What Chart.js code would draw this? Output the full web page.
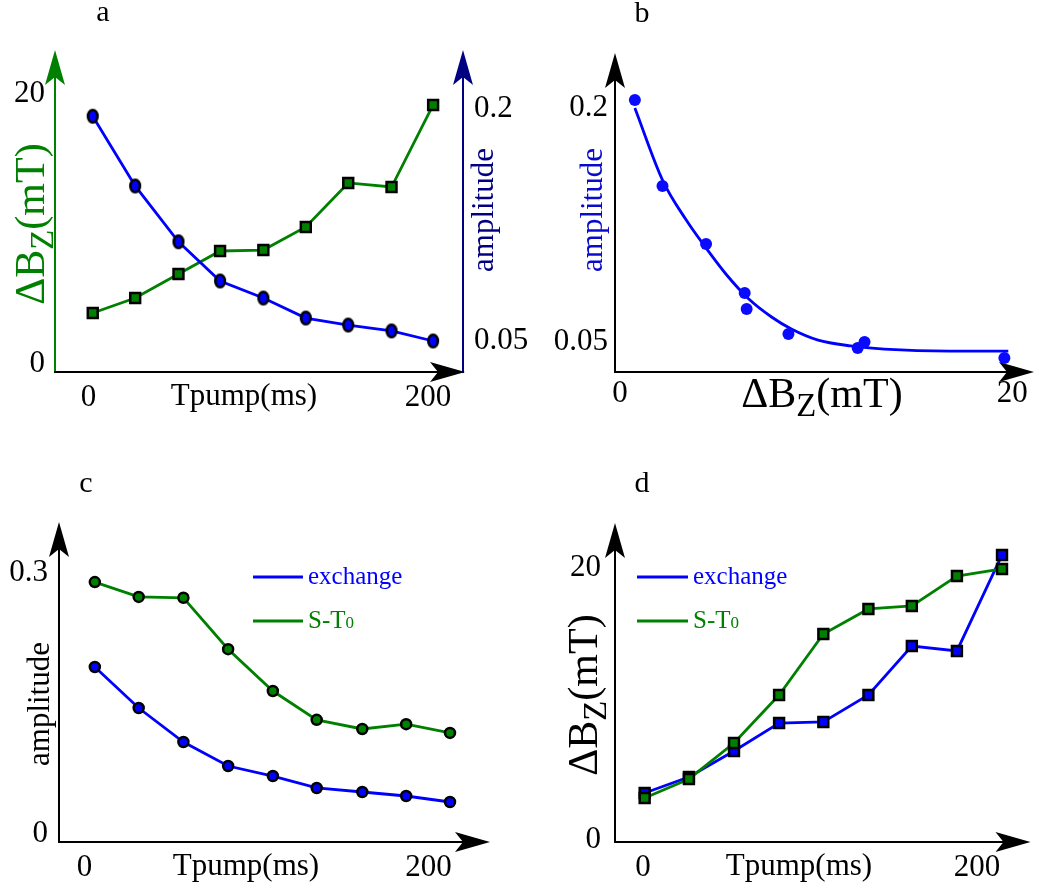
<!DOCTYPE html>
<html>
<head>
<meta charset="utf-8">
<script src="https://cdn.jsdelivr.net/npm/chart.js@4.4.1/dist/chart.umd.min.js"></script>
<style>
  html, body { margin: 0; padding: 0; background: #fff; }
  #wrap { position: relative; width: 1040px; height: 890px; }
  #wrap canvas { position: absolute; left: 0; top: 0; }
</style>
</head>
<body>
<div id="wrap">
  <canvas id="chartA" width="1040" height="890"></canvas>
  <canvas id="chartB" width="1040" height="890"></canvas>
  <canvas id="chartC" width="1040" height="890"></canvas>
  <canvas id="chartD" width="1040" height="890"></canvas>
</div>
<script>
// panel a : dBz and amplitude vs pump time
var aTime = [2.5, 27.5, 53, 77.5, 103, 128, 153, 178.5, 203];
var aDeltaB = [3.78, 4.89, 6.67, 8.37, 8.44, 10.15, 13.41, 13.11, 19.19];
var aAmp = [0.195, 0.150, 0.114, 0.0887, 0.0777, 0.0648, 0.0603, 0.0565, 0.050];
var aTimeTicks = [0, 200];
var aDeltaBTicks = [0, 20];
var aAmpTicks = [0.05, 0.2];

// panel b : amplitude vs dBz, with fit
var bDeltaB = [0.76, 2.17, 4.39, 6.36, 6.46, 8.59, 12.12, 12.47, 19.6];
var bAmp = [0.2048, 0.1498, 0.1127, 0.0814, 0.0711, 0.0551, 0.0461, 0.0500, 0.0397];
var bFitX = [0.76, 2.17, 3.38, 4.39, 5.4, 6.57, 7.73, 8.74, 10.1, 11.77, 13.48, 16.82, 19.8];
var bFitY = [0.1997, 0.1536, 0.128, 0.1101, 0.0935, 0.0775, 0.066, 0.0583, 0.0512, 0.0475, 0.0455, 0.0442, 0.0442];
var bDeltaBTicks = [0, 20];
var bAmpTicks = [0.05, 0.2];

// panel c : amplitude, exchange vs S-T0
var cTime = [6, 31.5, 57.5, 83.5, 109.5, 135, 161.5, 187, 212.5];
var cExchange = [0.1916, 0.1445, 0.1055, 0.078, 0.0665, 0.0528, 0.0482, 0.0436, 0.0367];
var cSTo = [0.289, 0.272, 0.271, 0.212, 0.164, 0.131, 0.1205, 0.126, 0.116];
var cTimeTicks = [0, 200];
var cAmpTicks = [0, 0.3];

// panel d : dBz, exchange vs S-T0
var dTime = [1, 27.5, 54.5, 81.5, 108, 135, 161, 188, 215];
var dExchange = [3.46, 4.63, 6.54, 8.6, 8.68, 10.66, 14.26, 13.9, 20.96];
var dSTo = [3.09, 4.49, 7.13, 10.66, 15.15, 16.99, 17.21, 19.41, 19.93];
var dTimeTicks = [0, 200];
var dDeltaBTicks = [0, 20];

var BLUE = '#0000ff', GREEN = '#008000', NAVY = '#000080';
var SERIF = '"Liberation Serif", "Times New Roman", serif';
Chart.defaults.font.family = SERIF;
Chart.defaults.color = '#000';

function font(size) { return size + 'px ' + SERIF; }
function pts(xs, ys) { return xs.map(function(x, i) { return { x: x, y: ys[i] }; }); }

function richText(ctx, parts, x, y, opt) {
  ctx.save();
  ctx.translate(x, y);
  if (opt.rotate) ctx.rotate(-Math.PI / 2);
  ctx.fillStyle = opt.color || '#000';
  ctx.textBaseline = 'alphabetic';
  ctx.textAlign = 'left';
  var widths = parts.map(function(p) { ctx.font = font(p[1]); return ctx.measureText(p[0]).width; });
  var total = widths.reduce(function(s, w) { return s + w; }, 0);
  var cx = opt.align === 'left' ? 0 : -total / 2;
  parts.forEach(function(p, i) {
    ctx.font = font(p[1]);
    ctx.fillText(p[0], cx, p[2] || 0);
    cx += widths[i];
  });
  ctx.restore();
}
function deltaB(size) { return [['\u0394B', size], ['Z', size * 0.78, size * 0.22], ['(mT)', size]]; }

function arrowHead(ctx, tx, ty, ux, uy) {
  var L = 35, W = 10, N = 27;
  var px = -uy, py = ux;
  ctx.beginPath();
  ctx.moveTo(tx, ty);
  ctx.lineTo(tx - ux * L + px * W, ty - uy * L + py * W);
  ctx.lineTo(tx - ux * N, ty - uy * N);
  ctx.lineTo(tx - ux * L - px * W, ty - uy * L - py * W);
  ctx.closePath();
  ctx.fill();
}

var DECO = {
  chartA: {
    axes: [{ dir: 'y', side: 'left', color: GREEN }, { dir: 'y', side: 'right', color: NAVY }, { dir: 'x', color: '#000', extra: 2 }],
    texts: [
      { parts: [['a', 30]], x: 103, y: 21 },
      { parts: [['Tpump(ms)', 31]], x: 244, y: 405 },
      { parts: deltaB(42), x: 44, y: 224, rotate: true, color: GREEN },
      { parts: [['amplitude', 31]], x: 493, y: 210, rotate: true, color: NAVY }
    ]
  },
  chartB: {
    axes: [{ dir: 'y', side: 'left', color: '#000' }, { dir: 'x', color: '#000' }],
    texts: [
      { parts: [['b', 30]], x: 642, y: 22 },
      { parts: deltaB(42), x: 822, y: 407 },
      { parts: [['amplitude', 31]], x: 602, y: 210, rotate: true, color: '#0a0acd' }
    ]
  },
  chartC: {
    axes: [{ dir: 'y', side: 'left', color: '#000' }, { dir: 'x', color: '#000' }],
    texts: [
      { parts: [['c', 30]], x: 86, y: 492 },
      { parts: [['Tpump(ms)', 31]], x: 246, y: 875 },
      { parts: [['amplitude', 31]], x: 49, y: 704, rotate: true }
    ],
    legend: { x: 253, y: 577, len: 50, gap: 44 }
  },
  chartD: {
    axes: [{ dir: 'y', side: 'left', color: '#000' }, { dir: 'x', color: '#000' }],
    texts: [
      { parts: [['d', 30]], x: 642, y: 492 },
      { parts: [['Tpump(ms)', 31]], x: 799, y: 875 },
      { parts: deltaB(42), x: 597, y: 695, rotate: true }
    ],
    legend: { x: 637, y: 577, len: 51, gap: 44 }
  }
};

Chart.register({
  id: 'deco',
  beforeDatasetsDraw: function(chart) {
    var d = DECO[chart.canvas.id], ctx = chart.ctx, ca = chart.chartArea;
    if (!d) return;
    d.axes.forEach(function(ax) {
      ctx.save();
      ctx.strokeStyle = ax.color; ctx.fillStyle = ax.color; ctx.lineWidth = 2;
      ctx.beginPath();
      if (ax.dir === 'x') {
        var tip = ca.right + (ax.extra || 0);
        ctx.moveTo(ca.left - 1, ca.bottom); ctx.lineTo(tip - 20, ca.bottom); ctx.stroke();
        arrowHead(ctx, tip, ca.bottom, 1, 0);
      } else {
        var x = ax.side === 'right' ? ca.right : ca.left;
        ctx.moveTo(x, ca.bottom + 1); ctx.lineTo(x, ca.top + 20); ctx.stroke();
        arrowHead(ctx, x, ca.top, 0, -1);
      }
      ctx.restore();
    });
  },
  afterDraw: function(chart) {
    var d = DECO[chart.canvas.id], ctx = chart.ctx;
    if (!d) return;
    d.texts.forEach(function(t) {
      richText(ctx, t.parts, t.x, t.y, { rotate: t.rotate, color: t.color });
    });
    if (d.legend) {
      var lg = d.legend;
      chart.data.datasets.forEach(function(ds, i) {
        var y = lg.y + i * lg.gap;
        ctx.save();
        ctx.strokeStyle = ds.borderColor; ctx.lineWidth = 3;
        ctx.beginPath(); ctx.moveTo(lg.x, y); ctx.lineTo(lg.x + lg.len, y); ctx.stroke();
        ctx.restore();
        var m = ds.label.match(/^(.*T)(\d)$/);
        var parts = m ? [[m[1], 25], [m[2], 17]] : [[ds.label, 25]];
        richText(ctx, parts, lg.x + lg.len + 5, y + 7, { align: 'left', color: ds.borderColor });
      });
    }
  }
});

// size = fixed thickness of the axis box (tick labels are clipped to it)
function axis(pos, min, max, tickVals, pad, size) {
  return {
    type: 'linear', position: pos, min: min, max: max,
    grid: { display: false, drawTicks: false },
    border: { display: false },
    ticks: { padding: pad, autoSkip: false, maxRotation: 0, font: { size: 31 }, color: '#000',
             callback: function(v) { return String(v); } },
    afterBuildTicks: function(s) { s.ticks = tickVals.map(function(v) { return { value: v }; }); },
    afterFit: function(s) { if (s.isHorizontal()) s.height = size; else s.width = size; }
  };
}

function base(pad, scales) {
  return {
    responsive: false, animation: false, events: [],
    layout: { padding: pad },
    scales: scales,
    plugins: { legend: { display: false }, tooltip: { enabled: false } }
  };
}

// elliptical blue marker used in panel a
function ellipseMarker() {
  var c = document.createElement('canvas');
  c.width = 16; c.height = 19;
  var g = c.getContext('2d');
  g.beginPath();
  g.ellipse(8, 9.5, 4.8, 6.3, 0, 0, Math.PI * 2);
  g.fillStyle = BLUE; g.fill();
  g.lineWidth = 2.6; g.strokeStyle = '#000'; g.stroke();
  return c;
}

function squareSet(label, xs, ys, color, extra) {
  var ds = { label: label, data: pts(xs, ys), showLine: true, borderColor: color, borderWidth: 2.8,
    pointStyle: 'rect', pointRadius: 7, pointBackgroundColor: color, pointBorderColor: '#000',
    pointBorderWidth: 2.5, clip: false };
  return Object.assign(ds, extra || {});
}
function circleSet(label, xs, ys, color, extra) {
  var ds = { label: label, data: pts(xs, ys), showLine: true, borderColor: color, borderWidth: 2.8,
    pointStyle: 'circle', pointRadius: 5, pointBackgroundColor: color, pointBorderColor: '#000',
    pointBorderWidth: 2.5, clip: false };
  return Object.assign(ds, extra || {});
}

// plot areas: a 55..463 x 50..372, b 615..1038 x 53..372, c 59..490 x 522..842, d 615..1038 x 523..842
new Chart(document.getElementById('chartA'), {
  type: 'scatter',
  data: { datasets: [
    circleSet('amplitude', aTime, aAmp, BLUE, { yAxisID: 'yR', pointStyle: ellipseMarker(), order: 0 }),
    squareSet('\u0394Bz', aTime, aDeltaB, GREEN, { yAxisID: 'yL', order: 1 })
  ]},
  options: base({ left: 0, top: 50, right: 507, bottom: 473 }, {
    x: axis('bottom', -19.73, 220.6, aTimeTicks, 7, 45),
    yL: axis('left', -0.593, 23.26, aDeltaBTicks, 10, 55),
    yR: axis('right', 0.03, 0.2377, aAmpTicks, 11, 70)
  })
});

new Chart(document.getElementById('chartB'), {
  type: 'scatter',
  data: { datasets: [
    { label: 'data', data: pts(bDeltaB, bAmp), pointStyle: 'circle', pointRadius: 6,
      pointBackgroundColor: '#0a0aff', pointBorderWidth: 0, showLine: false, clip: false, order: 0 },
    { label: 'fit', data: pts(bFitX, bFitY), showLine: true, borderColor: BLUE, borderWidth: 2.8,
      pointRadius: 0, cubicInterpolationMode: 'monotone', clip: false, order: 1 }
  ]},
  options: base({ left: 535, top: 53, right: 2, bottom: 473 }, {
    x: axis('bottom', -0.2525, 21.11, bDeltaBTicks, 3, 45),
    y: axis('left', 0.03081, 0.23486, bAmpTicks, 7, 80)
  })
});

new Chart(document.getElementById('chartC'), {
  type: 'scatter',
  data: { datasets: [
    circleSet('exchange', cTime, cExchange, BLUE, { order: 1 }),
    circleSet('S-T0', cTime, cSTo, GREEN, { order: 0 })
  ]},
  options: base({ left: 0, top: 522, right: 550, bottom: 3 }, {
    x: axis('bottom', -14.83, 235.76, cTimeTicks, 7, 45),
    y: axis('left', -0.00918, 0.35793, cAmpTicks, 11, 59)
  })
});

new Chart(document.getElementById('chartD'), {
  type: 'scatter',
  data: { datasets: [
    squareSet('exchange', dTime, dExchange, BLUE, { order: 1 }),
    squareSet('S-T0', dTime, dSTo, GREEN, { order: 0 })
  ]},
  options: base({ left: 535, top: 523, right: 2, bottom: 3 }, {
    x: axis('bottom', -16.76, 232.06, dTimeTicks, 7, 45),
    y: axis('left', -0.147, 23.31, dDeltaBTicks, 14, 80)
  })
});
</script>
</body>
</html>
